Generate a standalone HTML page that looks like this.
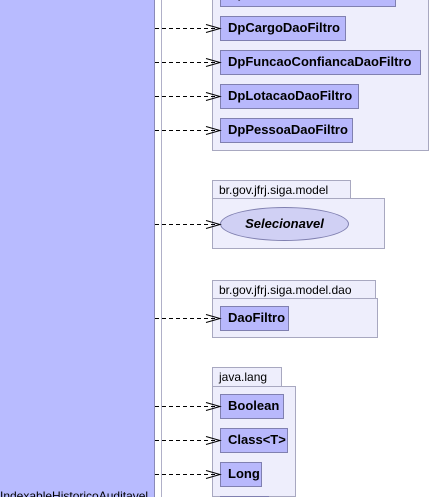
<!DOCTYPE html>
<html style="overflow:hidden;width:431px;height:497px"><head><style>
html,body{overflow:hidden}
body{margin:0;width:431px;height:497px;overflow:hidden;background:#fff;position:relative;font-family:"Liberation Sans",sans-serif}
.a{position:absolute;box-sizing:border-box}
.pk{background:#eeeefc;border:1px solid #a8a8c0}
.tab{background:#eeeefc;border:1px solid #a8a8c0;font-size:12px;color:#000;padding:2px 0 0 6px}
.c{background:#b8b8fc;border:1px solid #8080b0;font-weight:bold;font-size:13px;padding-left:7px;line-height:22px;white-space:nowrap}
</style></head><body>
<div class="a" style="left:0;top:0;width:155px;height:497px;background:#b8bbff;border-right:1px solid #8a8ab8"></div>
<div class="a" style="left:161px;top:0;width:1px;height:497px;background:#b0b0c8"></div>
<div class="a" style="left:0;top:489px;font-size:12px;line-height:14px;white-space:nowrap;overflow:hidden;width:154px;height:8px">IndexableHistoricoAuditavel</div>

<div class="a pk" style="left:212px;top:-2px;width:217px;height:153px"></div>
<div class="a c" style="left:220px;top:-18px;width:176px;height:25px">DpFuncaoDaoFiltro</div>
<div class="a c" style="left:220px;top:16px;width:126px;height:25px">DpCargoDaoFiltro</div>
<div class="a c" style="left:220px;top:50px;width:201px;height:25px">DpFuncaoConfiancaDaoFiltro</div>
<div class="a c" style="left:220px;top:84px;width:139px;height:25px">DpLotacaoDaoFiltro</div>
<div class="a c" style="left:220px;top:118px;width:133px;height:25px">DpPessoaDaoFiltro</div>

<div class="a tab" style="left:212px;top:180px;width:139px;height:19px">br.gov.jfrj.siga.model</div>
<div class="a pk" style="left:212px;top:198px;width:173px;height:51px"></div>
<div class="a" style="left:220px;top:207px;width:129px;height:34px;border-radius:50%;background:#d0d0f4;border:1px solid #8080b0;font-weight:bold;font-style:italic;font-size:13px;text-align:center;line-height:32px">Selecionavel</div>

<div class="a tab" style="left:212px;top:280px;width:164px;height:19px">br.gov.jfrj.siga.model.dao</div>
<div class="a pk" style="left:212px;top:298px;width:166px;height:40px"></div>
<div class="a c" style="left:220px;top:306px;width:69px;height:25px">DaoFiltro</div>

<div class="a tab" style="left:212px;top:367px;width:70px;height:20px">java.lang</div>
<div class="a pk" style="left:212px;top:386px;width:84px;height:111px"></div>
<div class="a c" style="left:220px;top:394px;width:64px;height:25px">Boolean</div>
<div class="a c" style="left:220px;top:428px;width:68px;height:25px">Class&lt;T&gt;</div>
<div class="a c" style="left:220px;top:462px;width:42px;height:25px">Long</div>
<div class="a c" style="left:220px;top:496px;width:49px;height:1px"></div>

<svg class="a" style="left:0;top:0" width="431" height="497">
<g stroke="#000" fill="none" stroke-width="1">
<g stroke-dasharray="4,3">
<line x1="155" y1="28.5" x2="219" y2="28.5"/><line x1="155" y1="62.5" x2="219" y2="62.5"/>
<line x1="155" y1="96.5" x2="219" y2="96.5"/><line x1="155" y1="130.5" x2="219" y2="130.5"/>
<line x1="155" y1="224.5" x2="219" y2="224.5"/><line x1="155" y1="318.5" x2="219" y2="318.5"/>
<line x1="155" y1="406.5" x2="219" y2="406.5"/><line x1="155" y1="440.5" x2="219" y2="440.5"/>
<line x1="155" y1="474.5" x2="219" y2="474.5"/>
</g>
<g>
<polyline points="206,24.5 220,28.5 206,32.5"/><polyline points="206,58.5 220,62.5 206,66.5"/>
<polyline points="206,92.5 220,96.5 206,100.5"/><polyline points="206,126.5 220,130.5 206,134.5"/>
<polyline points="206,220.5 220,224.5 206,228.5"/><polyline points="206,314.5 220,318.5 206,322.5"/>
<polyline points="206,402.5 220,406.5 206,410.5"/><polyline points="206,436.5 220,440.5 206,444.5"/>
<polyline points="206,470.5 220,474.5 206,478.5"/>
</g></g></svg>
</body></html>
